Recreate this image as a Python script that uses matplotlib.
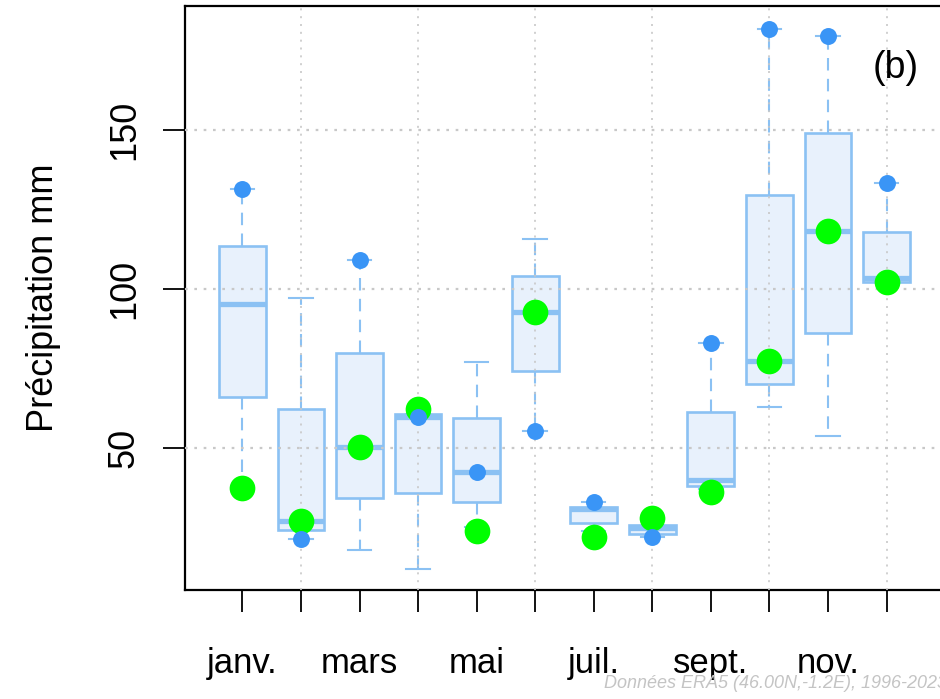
import matplotlib
matplotlib.use("Agg")
import matplotlib.pyplot as plt

plt.rcParams["font.family"] = ["Liberation Sans", "DejaVu Sans"]

# Monthly precipitation summary (mm)
months = ["janv.", "févr.", "mars", "avr.", "mai", "juin",
          "juil.", "août", "sept.", "oct.", "nov.", "déc."]
q1 = [66.0, 24.2, 34.3, 35.8, 33.0, 74.2, 26.4, 23.0, 38.0, 70.1, 86.2, 102.2]
median = [95.3, 27.0, 50.3, 59.7, 42.5, 92.8, 30.8, 24.8, 39.9, 77.4, 118.2, 103.5]
q3 = [113.5, 62.3, 79.9, 60.7, 59.5, 104.1, 31.4, 25.8, 61.3, 129.6, 149.1, 117.9]
whisker_low = [38.0, 21.4, 17.9, 12.0, 25.0, 55.3, 24.0, 22.0, 37.0, 62.9, 53.8, 102.2]
whisker_high = [131.4, 97.2, 109.1, 60.7, 77.0, 115.7, 33.0, 27.5, 83.0, 181.8, 179.6, 133.3]
blue_points = [131.4, 21.4, 109.1, 59.7, 42.5, 55.3, 33.0, 22.0, 83.0, 181.8, 179.6, 133.3]
green_points = [37.4, 27.0, 50.3, 62.3, 23.9, 92.8, 22.0, 28.0, 36.2, 77.4, 118.2, 102.2]
y_ticks = [50, 100, 150]

box_edge = "#8BC1F3"
box_fill = "#E8F1FC"
blue_col = "#3A95F6"
green_col = "#00FF00"
grid_col = "#C8C8C8"

fig = plt.figure(figsize=(9.40, 6.99), dpi=100)
ax = fig.add_axes([0.1968, 0.1559, 0.8074, 0.8355])

pos = list(range(1, len(months) + 1))
stats = []
for i in range(len(months)):
    stats.append(dict(med=median[i], q1=q1[i], q3=q3[i],
                      whislo=whisker_low[i], whishi=whisker_high[i],
                      fliers=[]))

ax.bxp(stats, positions=pos, widths=0.8, capwidths=0.4,
       patch_artist=True, showfliers=False,
       boxprops=dict(facecolor=box_fill, edgecolor=box_edge, linewidth=1.9),
       medianprops=dict(color=box_edge, linewidth=3.8, solid_capstyle="butt"),
       whiskerprops=dict(color=box_edge, linewidth=1.5, linestyle=(0, (6, 4))),
       capprops=dict(color=box_edge, linewidth=1.5),
       zorder=2)

# dotted grid drawn over the boxes
for yv in y_ticks:
    ax.axhline(yv, color=grid_col, linewidth=1.6, linestyle=(0, (1.2, 3.0)), zorder=3)
for xv in pos[1::2]:
    ax.axvline(xv, color=grid_col, linewidth=1.2, linestyle=(0, (1.2, 3.5)), zorder=3)

ax.plot(pos, green_points, linestyle="none", marker="o", ms=18.5,
        color=green_col, markeredgewidth=0, zorder=4)
ax.plot(pos, blue_points, linestyle="none", marker="o", ms=12.2,
        color=blue_col, markeredgewidth=0, zorder=5)

ax.set_xlim(0.02, 12.98)
ax.set_ylim(5.3, 189.0)

ax.set_xticks(pos)
ax.set_xticklabels([m if i % 2 == 0 else "" for i, m in enumerate(months)],
                   fontsize=25)
ax.set_yticks(y_ticks)
ax.set_yticklabels([str(v) for v in y_ticks], fontsize=26,
                   rotation=90, va="center")
ax.tick_params(axis="x", length=16, width=1.3, pad=25, color="black")
ax.tick_params(axis="y", length=16, width=1.3, pad=15, color="black")

for s in ax.spines.values():
    s.set_linewidth(1.6)
    s.set_color("black")

ax.set_ylabel("Précipitation mm", fontsize=26, labelpad=33)

ax.text(12.16, 169.5, "(b)", fontsize=27, ha="center", va="center", zorder=6)

fig.text(604 / 940, 0.0157, "Données ERA5 (46.00N,-1.2E), 1996-2023",
         fontsize=12.95, style="italic", color="#C4C4C4",
         ha="left", va="baseline")

fig.savefig("out.png", dpi=100)
